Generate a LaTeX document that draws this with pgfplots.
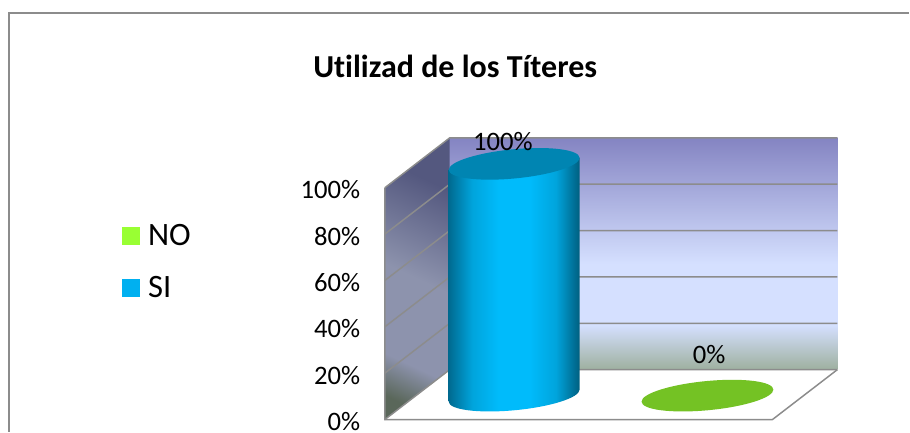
\documentclass[border=0pt]{standalone}
\usepackage{pgfplots}
\pgfplotsset{compat=1.18}
\usepackage{fontspec}
\setmainfont[Ligatures=NoCommon]{Carlito}
\definecolor{frame}{HTML}{8C8C8C}
\definecolor{cA}{HTML}{006A90}
\definecolor{cB}{HTML}{00A4DC}
\definecolor{cC}{HTML}{00BBFB}
\definecolor{cD}{HTML}{005F80}
\definecolor{cTop}{HTML}{0085B2}
\definecolor{cNo}{HTML}{74C224}
\definecolor{lNo}{HTML}{99FF33}
\definecolor{lSi}{HTML}{00B0F0}
\definecolor{bA}{HTML}{8484C2}
\definecolor{bB}{HTML}{D5E0FF}
\definecolor{bC}{HTML}{9EB09F}
\definecolor{sA}{HTML}{54587F}
\definecolor{sB}{HTML}{8D93AD}
\definecolor{sC}{HTML}{5A675A}
\pgfdeclarehorizontalshading{cyl}{100bp}{
 color(0bp)=(cA); color(25bp)=(cA); color(34bp)=(cB); color(44bp)=(cC);
 color(56bp)=(cC); color(66bp)=(cB); color(75bp)=(cD); color(100bp)=(cD)}
\pgfdeclareverticalshading{backwall}{100bp}{
 color(0bp)=(bC); color(25bp)=(bC); color(34.7bp)=(bB); color(47.8bp)=(bB);
 color(75bp)=(bA); color(100bp)=(bA)}
\pgfdeclareverticalshading{sidewall}{100bp}{
 color(0bp)=(sC); color(22bp)=(sC); color(31bp)=(sB); color(50bp)=(sB);
 color(72bp)=(sA); color(100bp)=(sA)}
% body of the cylinder: its height comes from the data value \val (1 unit = 1.74pt)
\newdimen\cylH
\pgfdeclareplotmark{cylbody}{%
 \cylH=\val pt \cylH=1.74\cylH
 \pgfpathmoveto{\pgfqpoint{-49.125pt}{-4.5pt}}%
 \pgfpathlineto{\pgfpoint{-49.125pt}{-4.5pt-\cylH}}%
 \pgfpathcurveto{\pgfpoint{-49.125pt}{-4.5pt-6.075pt-\cylH}}{\pgfpoint{-27.13pt}{-11pt-2.485pt-\cylH}}{\pgfpoint{0pt}{-11pt-\cylH}}%
 \pgfpathcurveto{\pgfpoint{27.13pt}{-11pt+2.485pt-\cylH}}{\pgfpoint{49.125pt}{4.5pt-6.075pt-\cylH}}{\pgfpoint{49.125pt}{4.5pt-\cylH}}%
 \pgfpathlineto{\pgfqpoint{49.125pt}{4.5pt}}%
 \pgfpathclose
 \pgfshadepath{cyl}{0}\pgfusepath{discard}}
\pgfdeclareplotmark{cyltop}{%
 \pgfpathellipse{\pgfpointorigin}{\pgfqpoint{49.125pt}{4.5pt}}{\pgfqpoint{0pt}{11pt}}%
 \pgfusepath{fill}}
\pgfdeclareplotmark{flat}{%
 \pgfpathellipse{\pgfpointorigin}{\pgfqpoint{49.5pt}{4.5pt}}{\pgfqpoint{0pt}{11pt}}%
 \pgfusepath{fill}}
\begin{document}
\begin{tikzpicture}
\begin{axis}[
  scale only axis, width=682.5pt, height=324pt,
  xmin=0, xmax=910, ymin=-15.517, ymax=170.69,
  axis line style={draw=none}, major tick length=0pt,
  xtick=\empty, ytick={0,20,40,60,80,100},
  yticklabel={\pgfmathprintnumber{\tick}\%},
  /pgf/number format/assume math mode=true,
  yticklabel style={anchor=east, inner sep=0pt, xshift=270.5pt, yshift=-19.5pt, font=\fontsize{20pt}{21pt}\selectfont},
  clip=false,
  title={\textbf{Utilizad de los Títeres}},
  title style={at={(axis description cs:0.5005,0.827)}, anchor=center, font=\fontsize{24pt}{26pt}\selectfont, inner sep=0pt},
  legend style={at={(axis description cs:0.1342,0.3925)}, anchor=west, draw=none, fill=none,
    font=\fontsize{24.5pt}{25pt}\selectfont, row sep=17.5pt, inner sep=0pt, cells={anchor=west},
    /tikz/every even column/.style={column sep=9pt}},
  legend image code/.code={\fill[#1] (0pt,-6.75pt) rectangle (13.5pt,6.75pt);\path (17.3pt,0pt);},
]
% outer frame
\draw[frame, line width=1.1pt] (axis cs:9,-15.517) -- (axis cs:9,165.1) -- (axis cs:910,165.1);
% walls
\shade[shading=backwall] (axis cs:450,11.21) rectangle (axis cs:838,111.21);
\shade[shading=sidewall, shading angle=-25] (axis cs:385,-10.34) -- (axis cs:450,11.21) -- (axis cs:450,111.21) -- (axis cs:385,89.66) -- cycle;
\fill[white] (axis cs:385,-10.34) -- (axis cs:450,11.21) -- (axis cs:838,11.21) -- (axis cs:773,-10.34) -- cycle;
% grid
\pgfplotsinvokeforeach{0,20,40,60,80,100}{
  \draw[frame, line width=1.1pt] (axis cs:385,#1-10.34) -- (axis cs:450,#1+11.21) -- (axis cs:838,#1+11.21);
}
\draw[frame, line width=1.1pt] (axis cs:385,89.66) -- (axis cs:385,-10.34) -- (axis cs:773,-10.34) -- (axis cs:838,11.21);
% series SI
\addplot[forget plot, scatter, only marks, mark=cylbody, scatter/use mapped color={draw=none,fill=none},
  visualization depends on={rawy \as \val}] coordinates {(514.5,100)};
\addplot[forget plot, only marks, mark=cyltop, color=black, mark options={fill=cTop, draw=none},
  point meta=explicit, nodes near coords={\pgfmathprintnumber{\pgfplotspointmeta}\%},
  nodes near coords style={anchor=center, xshift=-8.5pt, yshift=17pt, font=\fontsize{20pt}{21pt}\selectfont, inner sep=0pt, black}]
  coordinates {(514.5,100) [100]};
% series NO
\addplot[forget plot, only marks, mark=flat, mark options={fill=cNo, draw=none}] coordinates {(708,0)};
\addplot[forget plot, only marks, mark=none, draw=none,
  point meta=explicit, nodes near coords={\pgfmathprintnumber{\pgfplotspointmeta}\%},
  nodes near coords style={anchor=center, xshift=1.2pt, yshift=31pt, font=\fontsize{20pt}{21pt}\selectfont, inner sep=0pt, black}]
  coordinates {(708,0) [0]};
\addlegendimage{fill=lNo, draw=none}
\addlegendentry{NO}
\addlegendimage{fill=lSi, draw=none}
\addlegendentry{SI}
\end{axis}
\end{tikzpicture}
\end{document}
